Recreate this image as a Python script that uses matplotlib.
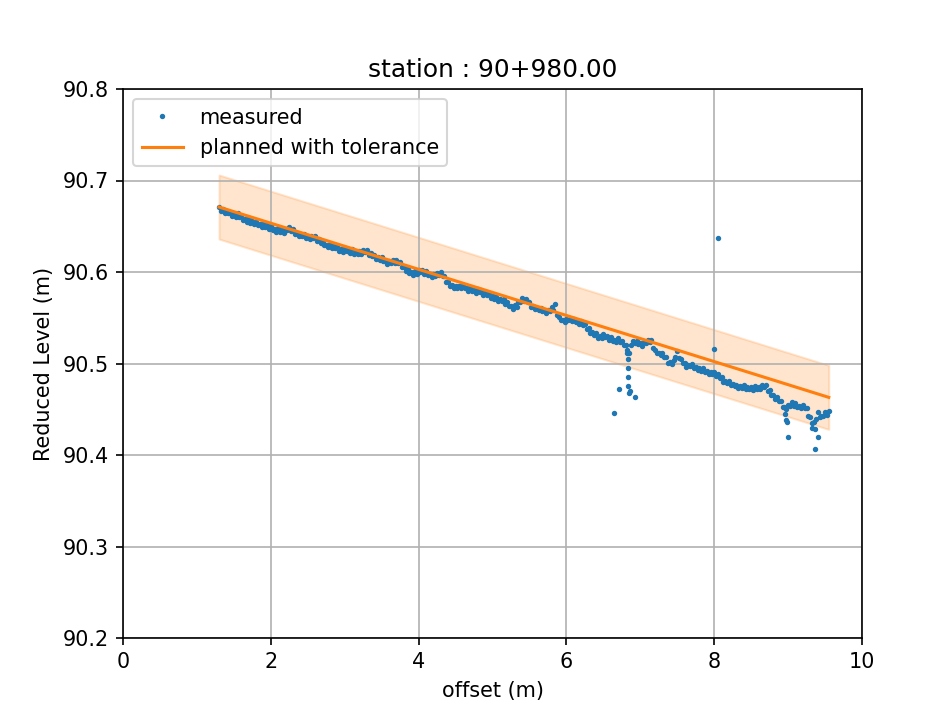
import numpy as np
import matplotlib
matplotlib.use("Agg")
import matplotlib.pyplot as plt

STATION = "90+980.00"

# planned section (start / end offset) and tolerance band
planned_x = [1.30, 9.55]
planned_y = [90.671, 90.463]
tolerance = 0.035

# measured profile (upper edge of the point cloud)
measured_x = [
    1.30, 1.35, 1.40, 1.45, 1.50, 1.55, 1.60, 1.65, 1.70, 1.75,
    1.80, 1.85, 1.90, 1.95, 2.00, 2.05, 2.10, 2.15, 2.20, 2.25,
    2.30, 2.35, 2.40, 2.45, 2.50, 2.55, 2.60, 2.65, 2.70, 2.75,
    2.80, 2.85, 2.90, 2.95, 3.00, 3.05, 3.10, 3.15, 3.20, 3.25,
    3.30, 3.35, 3.40, 3.45, 3.50, 3.55, 3.60, 3.65, 3.70, 3.75,
    3.80, 3.85, 3.90, 3.95, 4.00, 4.05, 4.10, 4.15, 4.20, 4.25,
    4.30, 4.35, 4.40, 4.45, 4.50, 4.55, 4.60, 4.65, 4.70, 4.75,
    4.80, 4.85, 4.90, 4.95, 5.00, 5.05, 5.10, 5.15, 5.20, 5.25,
    5.30, 5.35, 5.40, 5.45, 5.50, 5.55, 5.60, 5.65, 5.70, 5.75,
    5.80, 5.85, 5.90, 5.95, 6.00, 6.05, 6.10, 6.15, 6.20, 6.25,
    6.30, 6.35, 6.40, 6.45, 6.50, 6.55, 6.60, 6.65, 6.70, 6.75,
    6.80, 6.85, 6.90, 6.95, 7.00, 7.05, 7.10, 7.15, 7.20, 7.25,
    7.30, 7.35, 7.40, 7.45, 7.50, 7.55, 7.60, 7.65, 7.70, 7.75,
    7.80, 7.85, 7.90, 7.95, 8.00, 8.05, 8.10, 8.15, 8.20, 8.25,
    8.30, 8.35, 8.40, 8.45, 8.50, 8.55, 8.60, 8.65, 8.70, 8.75,
    8.80, 8.85, 8.90, 8.95, 9.00, 9.05, 9.10, 9.15, 9.20, 9.25,
    9.30, 9.35, 9.40, 9.45, 9.50, 9.55,
]
measured_y = [
    90.671, 90.669, 90.667, 90.665, 90.663, 90.664, 90.661, 90.658, 90.659, 90.656,
    90.655, 90.652, 90.653, 90.651, 90.650, 90.647, 90.648, 90.646, 90.647, 90.649,
    90.647, 90.643, 90.641, 90.642, 90.639, 90.639, 90.639, 90.636, 90.634, 90.630,
    90.631, 90.628, 90.628, 90.625, 90.626, 90.624, 90.625, 90.622, 90.623, 90.624,
    90.624, 90.621, 90.619, 90.616, 90.616, 90.612, 90.612, 90.613, 90.613, 90.611,
    90.606, 90.603, 90.600, 90.601, 90.602, 90.602, 90.601, 90.598, 90.598, 90.599,
    90.600, 90.596, 90.589, 90.586, 90.585, 90.585, 90.586, 90.583, 90.582, 90.580,
    90.581, 90.580, 90.577, 90.577, 90.574, 90.573, 90.570, 90.570, 90.567, 90.563,
    90.564, 90.567, 90.572, 90.571, 90.567, 90.563, 90.561, 90.561, 90.558, 90.558,
    90.562, 90.565, 90.551, 90.548, 90.549, 90.549, 90.549, 90.546, 90.546, 90.543,
    90.539, 90.534, 90.533, 90.530, 90.532, 90.530, 90.529, 90.526, 90.528, 90.525,
    90.520, 90.511, 90.525, 90.525, 90.522, 90.523, 90.526, 90.526, 90.515, 90.512,
    90.512, 90.507, 90.502, 90.504, 90.514, 90.505, 90.501, 90.498, 90.500, 90.496,
    90.495, 90.495, 90.492, 90.491, 90.491, 90.488, 90.485, 90.481, 90.481, 90.478,
    90.477, 90.475, 90.476, 90.474, 90.474, 90.475, 90.474, 90.476, 90.476, 90.471,
    90.466, 90.463, 90.459, 90.453, 90.455, 90.458, 90.457, 90.454, 90.455, 90.451,
    90.441, 90.436, 90.447, 90.443, 90.447, 90.448,
]

# lower edge of the point cloud, between the readings above
lower_x = [
    1.325, 1.375, 1.425, 1.475, 1.525, 1.575, 1.625, 1.675, 1.725, 1.775,
    1.825, 1.875, 1.925, 1.975, 2.025, 2.075, 2.125, 2.175, 2.225, 2.275,
    2.325, 2.375, 2.425, 2.475, 2.525, 2.575, 2.625, 2.675, 2.725, 2.775,
    2.825, 2.875, 2.925, 2.975, 3.025, 3.075, 3.125, 3.175, 3.225, 3.275,
    3.325, 3.375, 3.425, 3.475, 3.525, 3.575, 3.625, 3.675, 3.725, 3.775,
    3.825, 3.875, 3.925, 3.975, 4.025, 4.075, 4.125, 4.175, 4.225, 4.275,
    4.325, 4.375, 4.425, 4.475, 4.525, 4.575, 4.625, 4.675, 4.725, 4.775,
    4.825, 4.875, 4.925, 4.975, 5.025, 5.075, 5.125, 5.175, 5.225, 5.275,
    5.325, 5.375, 5.425, 5.475, 5.525, 5.575, 5.625, 5.675, 5.725, 5.775,
    5.825, 5.875, 5.925, 5.975, 6.025, 6.075, 6.125, 6.175, 6.225, 6.275,
    6.325, 6.375, 6.425, 6.475, 6.525, 6.575, 6.625, 6.675, 6.725, 6.775,
    6.825, 6.875, 6.925, 6.975, 7.025, 7.075, 7.125, 7.175, 7.225, 7.275,
    7.325, 7.375, 7.425, 7.475, 7.525, 7.575, 7.625, 7.675, 7.725, 7.775,
    7.825, 7.875, 7.925, 7.975, 8.025, 8.075, 8.125, 8.175, 8.225, 8.275,
    8.325, 8.375, 8.425, 8.475, 8.525, 8.575, 8.625, 8.675, 8.725, 8.775,
    8.825, 8.875, 8.925, 8.975, 9.025, 9.075, 9.125, 9.175, 9.225, 9.275,
    9.325, 9.375, 9.425, 9.475, 9.525,
]
lower_y = [
    90.667, 90.665, 90.664, 90.661, 90.660, 90.660, 90.657, 90.655, 90.654, 90.652,
    90.651, 90.649, 90.649, 90.647, 90.646, 90.644, 90.644, 90.643, 90.646, 90.645,
    90.642, 90.639, 90.639, 90.637, 90.636, 90.637, 90.634, 90.632, 90.630, 90.627,
    90.626, 90.626, 90.623, 90.622, 90.623, 90.621, 90.620, 90.620, 90.620, 90.622,
    90.619, 90.618, 90.614, 90.613, 90.612, 90.609, 90.610, 90.610, 90.610, 90.605,
    90.601, 90.599, 90.597, 90.598, 90.600, 90.598, 90.597, 90.595, 90.596, 90.597,
    90.596, 90.589, 90.585, 90.582, 90.583, 90.582, 90.582, 90.579, 90.579, 90.577,
    90.578, 90.575, 90.575, 90.572, 90.571, 90.568, 90.568, 90.565, 90.563, 90.560,
    90.562, 90.567, 90.568, 90.567, 90.562, 90.560, 90.558, 90.557, 90.555, 90.557,
    90.559, 90.553, 90.547, 90.545, 90.547, 90.546, 90.545, 90.543, 90.542, 90.538,
    90.533, 90.531, 90.528, 90.528, 90.529, 90.526, 90.525, 90.524, 90.523, 90.520,
    90.512, 90.520, 90.522, 90.521, 90.519, 90.522, 90.523, 90.517, 90.511, 90.509,
    90.507, 90.501, 90.500, 90.507, 90.506, 90.501, 90.496, 90.497, 90.495, 90.493,
    90.492, 90.491, 90.488, 90.489, 90.486, 90.484, 90.480, 90.479, 90.476, 90.475,
    90.473, 90.473, 90.472, 90.472, 90.471, 90.472, 90.472, 90.474, 90.470, 90.466,
    90.461, 90.459, 90.453, 90.450, 90.454, 90.454, 90.453, 90.451, 90.451, 90.443,
    90.435, 90.439, 90.442, 90.443, 90.444,
]

# dips and stray readings
extra_x = [6.82, 6.83, 6.83, 6.84, 6.84, 6.85, 6.86, 8.96, 8.97, 9.33, 9.37,
           6.64, 6.71, 6.93, 8.05, 8.00, 9.00, 8.99, 9.40, 9.36]
extra_y = [90.515, 90.505, 90.495, 90.485, 90.475, 90.468, 90.470, 90.445, 90.438, 90.430, 90.428,
           90.446, 90.472, 90.463, 90.637, 90.516, 90.420, 90.436, 90.420, 90.407]

fig = plt.figure(figsize=(943 / 149, 704 / 149), dpi=149)
ax = fig.add_axes([123 / 943, 1 - 638 / 704, (862 - 123) / 943, (638 - 89) / 704])

mx = np.array(measured_x + lower_x + extra_x)
my = np.array(measured_y + lower_y + extra_y)
order = np.argsort(mx, kind='stable')
ax.plot(mx[order], my[order], '.', color='#1f77b4', markersize=3.2, label='measured')

px = np.array(planned_x)
py = np.array(planned_y)
ax.plot(px, py, '-', color='#ff7f0e', linewidth=1.5, label='planned with tolerance')
ax.fill_between(px, py - tolerance, py + tolerance, color='#ff7f0e', alpha=0.2)

ax.set_xlim(0, 10)
ax.set_ylim(90.2, 90.8)
ax.set_yticks([90.2, 90.3, 90.4, 90.5, 90.6, 90.7, 90.8])
ax.set_yticklabels(['90.2', '90.3', '90.4', '90.5', '90.6', '90.7', '90.8'])
ax.grid(True)
ax.set_xlabel('offset (m)')
ax.set_ylabel('Reduced Level (m)')
ax.set_title(f'station : {STATION}')
ax.legend(loc='upper left')

fig.savefig('out.png', dpi=149)
